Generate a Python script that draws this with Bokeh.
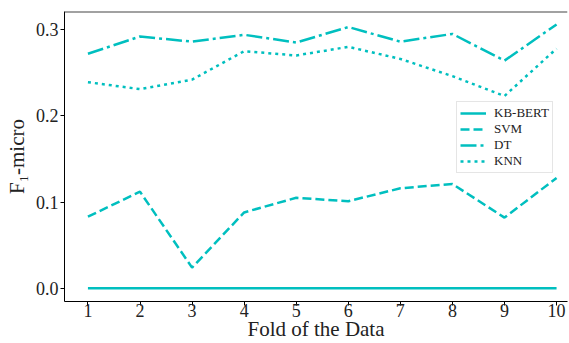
from bokeh.plotting import figure
from bokeh.embed import file_html
from bokeh.resources import INLINE
from bokeh.models import Legend, LegendItem, FixedTicker, NumeralTickFormatter, Span, Range1d

folds = [1, 2, 3, 4, 5, 6, 7, 8, 9, 10]
kb_bert = [0.0, 0.0, 0.0, 0.0, 0.0, 0.0, 0.0, 0.0, 0.0, 0.0]
svm = [0.083, 0.112, 0.024, 0.088, 0.105, 0.101, 0.116, 0.121, 0.082, 0.128]
dt = [0.272, 0.292, 0.286, 0.294, 0.285, 0.303, 0.286, 0.295, 0.264, 0.306]
knn = [0.239, 0.231, 0.242, 0.275, 0.270, 0.280, 0.266, 0.246, 0.223, 0.278]
y_ticks = [0.0, 0.1, 0.2, 0.3]

COLOR = "#00BFBF"
FONT = "Liberation Serif"
Y_END = 0.321

p = figure(width=569, height=343, output_backend="svg", toolbar_location=None,
           x_range=Range1d(0.55, 10.21), y_range=Range1d(-0.0153, Y_END),
           min_border_left=64, min_border_right=2, min_border_top=11, min_border_bottom=41)
p.outline_line_color = None
p.xgrid.visible = False
p.ygrid.visible = False
p.background_fill_color = "white"

r1 = p.line(folds, kb_bert, line_color=COLOR, line_width=2.5)
r2 = p.line(folds, svm, line_color=COLOR, line_width=2.5, line_dash="9 4")
r3 = p.line(folds, dt, line_color=COLOR, line_width=2.5, line_dash="16 4 3 4")
r4 = p.line(folds, knn, line_color=COLOR, line_width=2.5, line_dash="3 4")

p.add_layout(Span(location=Y_END, dimension="width", line_color="#444444", line_width=2))

for ax in [p.xaxis[0], p.yaxis[0]]:
    ax.axis_line_color = "black"
    ax.major_tick_line_color = "black"
    ax.major_tick_out = 4
    ax.major_tick_in = 0
    ax.minor_tick_line_color = None
    ax.major_label_text_font = FONT
    ax.major_label_text_font_size = "18px"
    ax.major_label_text_color = "#222222"
    ax.axis_label_text_font = FONT
    ax.axis_label_text_font_size = "21px"
    ax.axis_label_text_font_style = "normal"
    ax.axis_label_text_color = "#222222"

p.xaxis.ticker = FixedTicker(ticks=folds)
p.yaxis.ticker = FixedTicker(ticks=y_ticks)
p.yaxis.formatter = NumeralTickFormatter(format="0.0")
p.xaxis.axis_label = "Fold of the Data"
p.yaxis.axis_label = "F\u2081-micro"
p.xaxis.major_label_standoff = -2
p.xaxis.axis_label_standoff = -3
p.yaxis.major_label_standoff = 2
p.yaxis.axis_label_standoff = 4

legend = Legend(items=[
    LegendItem(label="KB-BERT", renderers=[r1]),
    LegendItem(label="SVM", renderers=[r2]),
    LegendItem(label="DT", renderers=[r3]),
    LegendItem(label="KNN", renderers=[r4]),
], location=(392, 128))
legend.label_text_font = FONT
legend.label_text_font_size = "13px"
legend.label_text_color = "#222222"
legend.glyph_width = 26
legend.glyph_height = 16
legend.label_height = 16
legend.spacing = 0
legend.padding = 3
legend.margin = 0
legend.label_standoff = 8
legend.border_line_color = "#cccccc"
legend.border_line_width = 1
legend.background_fill_alpha = 1
p.add_layout(legend, "center")

open("out.html", "w").write(file_html(p, INLINE))
